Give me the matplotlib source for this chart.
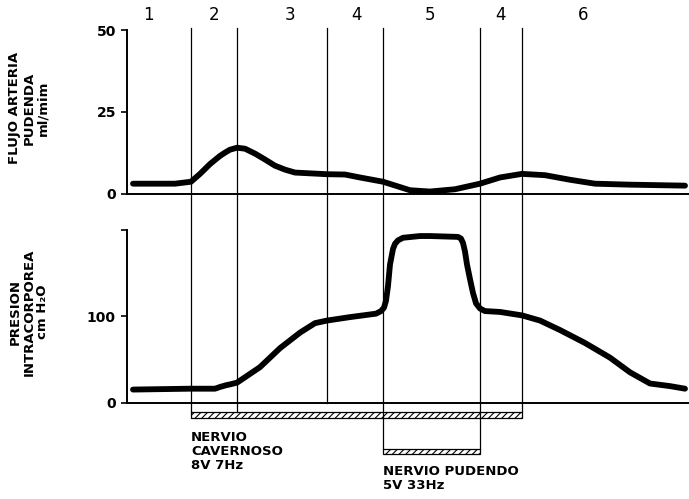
import matplotlib
matplotlib.use("Agg")
import matplotlib.pyplot as plt
from matplotlib.patches import Rectangle

# --- dane (czas w jednostkach umownych) ---
flow_t = [6, 48, 64, 73, 83, 93, 98, 103, 110, 118, 128, 138, 148, 158, 168,
          200, 218, 233, 256, 283, 303, 328, 353, 373, 395, 418, 443, 468,
          503, 558]
flow_v = [3.0, 3.0, 3.6, 6.0, 9.0, 11.5, 12.5, 13.4, 14.0, 13.7, 12.2, 10.4,
          8.5, 7.3, 6.4, 5.9, 5.8, 4.9, 3.6, 1.0, 0.6, 1.3, 3.0, 4.9, 6.0,
          5.6, 4.2, 3.0, 2.7, 2.4]

pres_t = [6, 63, 88, 93, 99, 103, 110, 133, 153, 173, 188, 200, 223, 249,
          254, 257, 259, 261, 263, 266, 268, 271, 276, 293, 303, 331, 334,
          336, 338, 340, 343, 346, 349, 353, 358, 373, 395, 413, 433, 458,
          483, 503, 523, 543, 558]
pres_v = [15, 16, 16, 18, 20, 21, 23, 41, 63, 81, 92, 95, 99, 103,
          106, 110, 118, 135, 160, 178, 184, 188, 191, 193, 193, 192, 190,
          185, 175, 160, 143, 127, 115, 109, 106, 105, 101, 95, 84, 69,
          52, 35, 22, 19, 16]

fases = [64, 110, 200, 256, 353, 395]
fase_lbl = ["1", "2", "3", "4", "5", "4", "6"]
fase_pos = [21, 87, 163, 230, 303, 373, 456]

flow_ticks = [0, 25, 50]
flow_tick_lbl = ["0", "25", "50"]
pres_ticks = [0, 100, 200]
pres_tick_lbl = ["0", "100", ""]

W, H = 689, 499
XMAX = 562

fig = plt.figure(figsize=(6.89, 4.99), dpi=100)
fig.patch.set_facecolor("white")

def fy(py):
    return 1 - py / H

left = 127 / W
width = 1 - left

# capa de fondo en pixeles verticales (lineas de fase, barras de estimulo)
bg = fig.add_axes([left, 0, width, 1], zorder=0)
bg.set_xlim(0, XMAX)
bg.set_ylim(H, 0)
bg.axis("off")

ax1 = fig.add_axes([left, fy(193.5), width, fy(30) - fy(193.5)], zorder=2)
ax2 = fig.add_axes([left, fy(402.5), width, fy(230) - fy(402.5)], zorder=2)

for ax in (ax1, ax2):
    ax.set_facecolor("none")
    ax.set_xlim(0, XMAX)
    ax.spines["top"].set_visible(False)
    ax.spines["right"].set_visible(False)
    ax.spines["left"].set_linewidth(1.4)
    ax.spines["bottom"].set_linewidth(1.4)
    ax.set_xticks([])
    ax.tick_params(axis="y", length=4, width=1.2, pad=4, labelsize=10)

ax1.plot(flow_t, flow_v, color="black", lw=4.2, solid_capstyle="round",
         solid_joinstyle="round")
ax1.set_ylim(0, 50)
ax1.set_yticks(flow_ticks)
ax1.set_yticklabels(flow_tick_lbl, fontweight="bold")

ax2.plot(pres_t, pres_v, color="black", lw=4.2, solid_capstyle="round",
         solid_joinstyle="round")
ax2.set_ylim(0, 200)
ax2.set_yticks(pres_ticks)
ax2.set_yticklabels(pres_tick_lbl, fontweight="bold")

# lineas verticales de las fases
bottoms = [412, 412, 403, 449, 449, 412]
for x, yb in zip(fases, bottoms):
    bg.plot([x, x], [28, yb], color="black", lw=0.9)

for x, s in zip(fase_pos, fase_lbl):
    bg.text(x, 15, s, ha="center", va="center", fontsize=12)

# barras de estimulacion
plt.rcParams["hatch.linewidth"] = 0.8
bg.add_patch(Rectangle((fases[0], 412), fases[5] - fases[0], 6,
                       facecolor="white", edgecolor="black", lw=0.9,
                       hatch="/////"))
bg.add_patch(Rectangle((fases[3], 449), fases[4] - fases[3], 5,
                       facecolor="white", edgecolor="black", lw=0.9,
                       hatch="/////"))

bg.text(fases[0], 431, "NERVIO\nCAVERNOSO\n8V 7Hz", ha="left", va="top",
        fontsize=9.5, fontweight="bold", linespacing=1.1)
bg.text(fases[3], 465, "NERVIO PUDENDO\n5V 33Hz", ha="left", va="top",
        fontsize=9.5, fontweight="bold", linespacing=1.1)

# etiquetas de los ejes
fig.text(29 / W, fy(108), "FLUJO ARTERIA\nPUDENDA\nml/mim", rotation=90,
         ha="center", va="center", multialignment="center", fontsize=9.5,
         fontweight="bold", linespacing=1.1)
fig.text(29 / W, fy(312), "PRESION\nINTRACORPOREA\ncm H\u2082O", rotation=90,
         ha="center", va="center", multialignment="center", fontsize=9.5,
         fontweight="bold", linespacing=1.1)

plt.savefig("out.png", dpi=100, facecolor="white")
